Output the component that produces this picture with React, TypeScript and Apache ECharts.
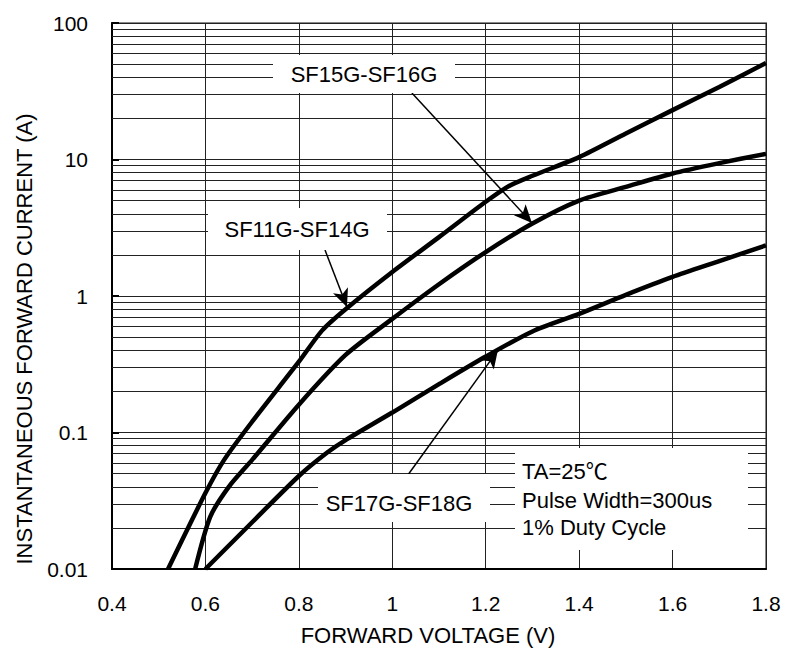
import React, { useEffect, useRef } from 'react';
import * as echarts from 'echarts';

const FONT = '"Liberation Sans", Arial, "Noto Sans CJK SC", sans-serif';

// Tick labels
const xTickLabels = ['0.4', '0.6', '0.8', '1', '1.2', '1.4', '1.6', '1.8'];
const yTickLabels = ['0.01', '0.1', '1', '10', '100'];

// Curve SF11G-SF14G
const vA = [0.52, 0.6, 0.64, 0.7, 0.8, 0.85, 0.9, 1.0, 1.1, 1.2, 1.25, 1.3, 1.4, 1.5, 1.6, 1.7, 1.8];
const iA = [0.01, 0.036, 0.063, 0.12, 0.33, 0.56, 0.8, 1.5, 2.7, 4.9, 6.4, 7.6, 10.4, 15.5, 23, 34, 51];

// Curve SF15G-SF16G
const vB = [0.578, 0.61, 0.65, 0.7, 0.8, 0.9, 1.0, 1.1, 1.2, 1.3, 1.4, 1.5, 1.6, 1.7, 1.8];
const iB = [0.01, 0.024, 0.04, 0.063, 0.16, 0.37, 0.68, 1.22, 2.1, 3.4, 5.0, 6.3, 7.9, 9.4, 11];

// Curve SF17G-SF18G
const vC = [0.6, 0.7, 0.8, 0.86, 0.9, 1.0, 1.1, 1.2, 1.3, 1.4, 1.5, 1.6, 1.7, 1.8];
const iC = [0.01, 0.022, 0.048, 0.071, 0.088, 0.14, 0.226, 0.36, 0.55, 0.74, 1.02, 1.38, 1.8, 2.35];

// Minor log gridlines
const decades = [0.01, 0.1, 1, 10];
const multipliers = [2, 3, 4, 5, 6, 7, 8, 9];

// Arrow annotations (from -> to, in data units)
const arrowSF15 = [[1.042, 30.7], [1.299, 3.43]];
const arrowSF11 = [[0.856, 2.17], [0.903, 0.83]];
const arrowSF17 = [[1.021, 0.0427], [1.226, 0.4]];

export default function App() {
  const ref = useRef<HTMLDivElement>(null);
  useEffect(() => {
    const chart = echarts.init(ref.current!, null, { renderer: 'svg' });
    const minor: number[] = [];
    decades.forEach((d) => multipliers.forEach((m) => minor.push(d * m)));
    const curve = (name: string, v: number[], i: number[]) => ({
      name,
      type: 'line',
      data: v.map((x, k) => [x, i[k]]),
      showSymbol: false,
      smooth: 0.25,
      lineStyle: { color: '#000', width: 4.5 },
      z: 5,
      silent: true,
    });
    const arrow = (a: number[][]) => [
      { coord: a[0], symbol: 'none' },
      { coord: a[1], symbol: 'arrow', symbolSize: [12, 18] },
    ];
    const box = (x: number, y: number, w: number, h: number) => ({
      type: 'rect',
      shape: { x, y, width: w, height: h },
      style: { fill: '#fff' },
      z: 10,
    });
    const txt = (text: string, x: number, y: number, align = 'center', rot = 0) => ({
      type: 'text',
      x,
      y,
      rotation: rot,
      z: 11,
      style: {
        text,
        fill: '#000',
        fontSize: 22,
        fontFamily: FONT,
        align,
        verticalAlign: 'middle',
      },
    });
    chart.setOption({
      animation: false,
      backgroundColor: '#fff',
      grid: {
        left: 112,
        top: 23,
        width: 654,
        height: 546,
        show: true,
        borderColor: '#888',
        borderWidth: 2,
        backgroundColor: '#fff',
      },
      xAxis: {
        type: 'value',
        min: 0.4,
        max: 1.8,
        interval: 0.2,
        axisLine: { show: true, onZero: false, lineStyle: { color: '#000', width: 2 } },
        axisTick: { show: false },
        axisLabel: {
          fontSize: 21,
          color: '#000',
          margin: 24,
          fontFamily: FONT,
          formatter: (v: number) => xTickLabels[Math.round((v - 0.4) / 0.2)] ?? '',
        },
        splitLine: { show: true, lineStyle: { color: '#222', width: 1 } },
      },
      yAxis: {
        type: 'log',
        logBase: 10,
        min: 0.01,
        max: 100,
        axisLine: { show: true, lineStyle: { color: '#000', width: 2 } },
        axisTick: { show: true, inside: true, length: 7, lineStyle: { color: '#000', width: 2 } },
        axisLabel: {
          fontSize: 21,
          color: '#000',
          margin: 24,
          fontFamily: FONT,
          formatter: (v: number) => yTickLabels[Math.round(Math.log10(v)) + 2] ?? '',
        },
        splitLine: { show: true, lineStyle: { color: '#222', width: 1 } },
      },
      series: [
        {
          name: 'grid',
          type: 'line',
          data: [],
          silent: true,
          z: 1,
          markLine: {
            silent: true,
            symbol: 'none',
            label: { show: false },
            lineStyle: { color: '#222', width: 1, type: 'solid' },
            data: minor.map((v) => ({ yAxis: v })),
          },
        },
        curve('SF11G-SF14G', vA, iA),
        curve('SF15G-SF16G', vB, iB),
        curve('SF17G-SF18G', vC, iC),
        {
          name: 'arrows',
          type: 'line',
          data: [],
          silent: true,
          z: 6,
          markLine: {
            silent: true,
            label: { show: false },
            lineStyle: { color: '#000', width: 1.5, type: 'solid' },
            data: [arrow(arrowSF15), arrow(arrowSF11), arrow(arrowSF17)],
          },
        },
      ],
      graphic: [
        box(273, 55, 182, 38),
        txt('SF15G-SF16G', 364, 74),
        box(208, 208, 179, 42),
        txt('SF11G-SF14G', 297, 229),
        box(318, 474, 172, 48),
        txt('SF17G-SF18G', 399, 503),
        box(515, 448, 233, 102),
        txt('TA=25℃', 522, 471, 'left'),
        txt('Pulse Width=300us', 522, 500, 'left'),
        txt('1% Duty Cycle', 522, 527, 'left'),
        txt('INSTANTANEOUS FORWARD CURRENT (A)', 24, 339, 'center', Math.PI / 2),
        txt('FORWARD VOLTAGE (V)', 428, 635),
      ],
    });
    return () => chart.dispose();
  }, []);
  return (
    <div
      ref={ref}
      style={{ position: 'fixed', left: 0, top: 0, width: 800, height: 651, background: '#fff' }}
    />
  );
}
